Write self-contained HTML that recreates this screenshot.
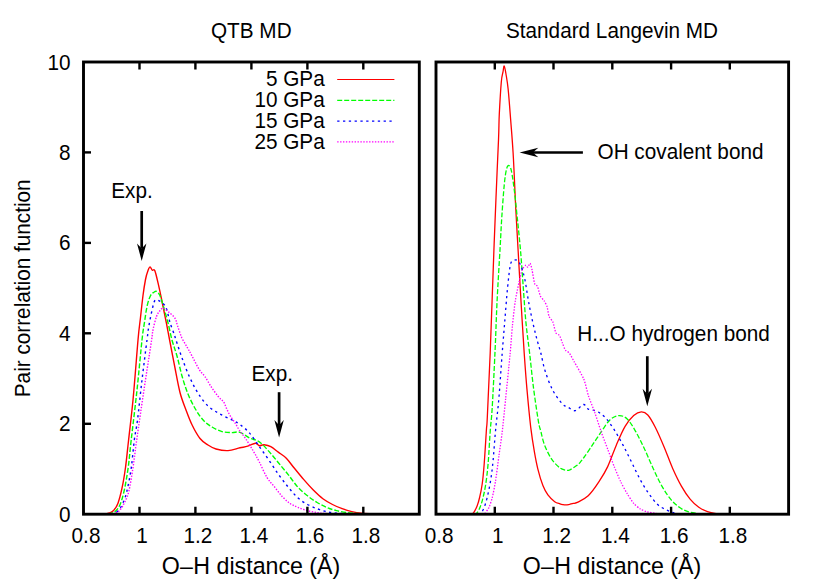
<!DOCTYPE html>
<html><head><meta charset="utf-8"><title>Pair correlation function</title>
<style>
html,body{margin:0;padding:0;background:#fff;}
body{width:830px;height:581px;overflow:hidden;}
svg{display:block;font-family:"Liberation Sans",sans-serif;font-size:20.7px;fill:#000;}
</style></head><body>
<svg width="830" height="581" viewBox="0 0 830 581">
<rect x="0" y="0" width="830" height="581" fill="#ffffff"/>
<path d="M106.0,514.0C106.6,513.8 108.3,513.6 109.6,513.0C110.9,512.4 112.4,511.8 113.8,510.2C115.2,508.6 116.5,507.1 117.9,503.4C119.3,499.7 120.7,494.2 122.0,488.2C123.3,482.2 124.4,475.5 125.5,467.5C126.6,459.5 127.3,451.2 128.6,440.0C129.8,428.8 131.4,416.7 133.0,400.0C134.6,383.3 136.8,353.8 138.0,340.0C139.2,326.2 139.7,324.9 140.5,317.5C141.3,310.1 142.2,301.8 143.0,295.5C143.8,289.2 144.7,283.7 145.5,279.5C146.3,275.3 147.3,272.3 148.1,270.2C148.9,268.1 149.4,266.9 150.1,266.9C150.8,266.9 151.5,269.6 152.3,270.2C153.1,270.8 153.8,268.4 154.8,270.6C155.8,272.9 157.1,279.0 158.2,283.7C159.3,288.4 160.1,292.1 161.5,298.9C162.9,305.6 165.2,317.3 166.6,324.2C167.9,331.1 168.2,332.7 169.6,340.0C171.0,347.3 173.3,359.2 175.0,368.0C176.7,376.8 178.2,385.5 180.0,392.5C181.8,399.5 184.0,404.6 186.0,410.0C188.0,415.4 189.7,420.1 192.0,424.8C194.3,429.6 197.3,435.1 200.0,438.5C202.7,441.9 205.3,443.2 208.0,445.0C210.7,446.8 212.7,448.1 216.0,449.0C219.3,449.9 224.0,450.8 228.0,450.6C232.0,450.4 236.7,448.5 240.0,447.8C243.3,447.1 245.1,447.0 247.7,446.2C250.3,445.4 253.5,443.3 255.4,443.2C257.3,443.1 257.9,445.4 259.3,445.7C260.8,445.9 262.2,444.5 264.1,444.7C266.0,444.9 268.4,445.3 270.8,446.6C273.2,447.9 276.0,450.5 278.6,452.4C281.2,454.3 283.7,455.6 286.3,458.2C288.9,460.8 291.1,464.3 294.0,467.8C296.9,471.3 300.4,475.7 303.6,479.4C306.8,483.1 310.1,486.8 313.3,490.0C316.5,493.2 319.7,496.3 322.9,498.7C326.1,501.1 329.3,502.8 332.5,504.5C335.7,506.2 339.0,507.5 342.2,508.7C345.4,509.9 348.6,510.9 351.8,511.6C355.0,512.3 358.0,512.8 361.5,513.1C365.0,513.5 369.1,513.6 373.0,513.7C376.9,513.9 383.0,514.0 385.0,514.0" fill="none" stroke="#ff0000" stroke-width="1.40" stroke-linejoin="round"/>
<path d="M108.0,514.0C108.5,513.9 109.8,513.7 111.0,513.3C112.2,512.9 113.7,513.0 115.2,511.6C116.7,510.2 118.5,508.1 120.0,504.7C121.5,501.3 122.7,497.2 124.1,491.0C125.5,484.8 127.0,476.0 128.2,467.5C129.4,459.0 129.7,452.9 131.2,440.0C132.7,427.1 135.2,406.7 137.0,390.0C138.8,373.3 140.8,351.0 142.0,340.0C143.2,329.0 143.3,329.9 144.2,324.2C145.1,318.5 146.1,310.4 147.2,305.6C148.3,300.8 149.5,297.7 150.6,295.5C151.7,293.3 153.0,292.9 154.0,292.2C155.0,291.5 155.5,290.8 156.5,291.3C157.5,291.9 158.8,293.1 159.9,295.5C161.0,297.9 161.9,301.4 163.2,305.6C164.5,309.8 166.0,315.1 167.5,320.8C169.0,326.5 170.4,334.1 172.0,340.0C173.6,345.9 175.3,350.0 177.0,356.0C178.7,362.0 180.2,369.7 182.0,376.0C183.8,382.3 185.7,388.3 188.0,394.0C190.3,399.7 193.3,405.5 196.0,410.0C198.7,414.5 201.3,418.2 204.0,421.0C206.7,423.8 209.0,425.2 212.0,427.0C215.0,428.8 218.7,430.7 222.0,431.6C225.3,432.5 229.0,432.5 232.0,432.6C235.0,432.7 237.1,431.4 240.0,432.3C242.9,433.2 246.4,436.4 249.6,438.0C252.8,439.6 256.1,439.6 259.3,441.8C262.5,444.0 265.7,447.9 268.9,451.4C272.1,454.9 275.4,459.1 278.6,463.0C281.8,466.9 285.0,470.6 288.2,474.6C291.4,478.6 294.6,483.6 297.8,487.1C301.0,490.6 304.3,493.2 307.5,495.8C310.7,498.4 313.9,500.6 317.1,502.5C320.3,504.4 323.6,506.0 326.8,507.4C330.0,508.8 332.9,509.7 336.4,510.6C339.9,511.5 344.1,512.2 348.0,512.7C351.9,513.2 358.0,513.6 360.0,513.8" fill="none" stroke="#00ff00" stroke-width="1.40" stroke-dasharray="5,2" stroke-linejoin="round"/>
<path d="M111.0,514.0C111.6,513.8 113.2,513.6 114.5,513.0C115.8,512.4 117.2,511.8 118.6,510.2C120.0,508.6 121.3,506.6 122.7,503.4C124.1,500.2 125.5,497.0 126.9,491.0C128.3,485.0 130.1,476.0 131.3,467.5C132.5,459.0 133.3,447.9 134.3,440.0C135.3,432.1 136.2,430.0 137.5,420.0C138.8,410.0 140.4,393.3 142.0,380.0C143.6,366.7 145.8,349.0 147.0,340.0C148.2,331.0 148.0,331.1 148.9,325.9C149.8,320.7 151.3,313.2 152.3,309.0C153.3,304.8 153.8,302.1 154.8,300.6C155.8,299.2 156.8,299.8 158.2,300.3C159.6,300.8 161.8,302.2 163.2,303.6C164.6,305.1 165.5,305.9 166.6,309.0C167.7,312.1 168.7,318.3 170.0,322.5C171.3,326.7 173.2,331.4 174.2,334.3C175.2,337.2 174.7,336.1 176.0,340.0C177.3,343.9 179.7,351.7 182.0,358.0C184.3,364.3 187.3,372.2 190.0,378.0C192.7,383.8 195.0,388.3 198.0,393.0C201.0,397.7 204.3,402.5 208.0,406.0C211.7,409.5 216.0,411.7 220.0,414.0C224.0,416.3 228.7,418.2 232.0,420.0C235.3,421.8 237.1,422.3 240.0,424.5C242.9,426.7 246.4,429.4 249.6,433.1C252.8,436.8 256.1,442.1 259.3,446.6C262.5,451.1 265.7,455.4 268.9,460.1C272.1,464.8 275.4,470.1 278.6,474.6C281.8,479.1 285.0,483.2 288.2,487.1C291.4,491.0 294.6,494.8 297.8,497.7C301.0,500.6 304.3,502.7 307.5,504.5C310.7,506.3 313.9,507.5 317.1,508.7C320.3,509.9 323.6,511.1 326.8,511.8C330.0,512.5 332.9,512.7 336.4,513.1C339.9,513.5 346.1,513.9 348.0,514.0" fill="none" stroke="#0000ff" stroke-width="1.40" stroke-dasharray="2.3,3.5" stroke-linejoin="round"/>
<path d="M113.0,514.0C113.7,513.7 115.9,513.1 117.2,512.3C118.5,511.5 119.4,510.7 120.7,509.0C122.0,507.3 123.4,505.0 124.8,502.0C126.2,499.0 127.5,496.8 128.9,491.0C130.3,485.2 131.8,475.2 133.0,467.5C134.2,459.8 134.7,454.6 136.0,445.0C137.3,435.4 139.2,422.5 141.0,410.0C142.8,397.5 145.2,381.7 147.0,370.0C148.8,358.3 150.6,346.8 151.6,340.0C152.6,333.2 152.3,333.2 153.1,329.3C153.9,325.4 155.4,319.7 156.5,316.6C157.6,313.5 158.8,312.1 159.9,310.7C161.0,309.3 161.7,307.9 163.2,308.2C164.7,308.5 167.1,310.7 169.1,312.4C171.1,314.1 173.6,316.1 175.0,318.3C176.4,320.6 176.5,322.7 177.6,325.9C178.7,329.1 180.2,334.0 181.8,337.7C183.5,341.4 185.8,344.8 187.5,347.8C189.2,350.9 190.0,352.3 192.0,356.0C194.0,359.7 197.3,366.6 199.5,370.0C201.7,373.4 203.0,373.8 204.9,376.5C206.8,379.2 208.8,383.2 211.0,386.5C213.2,389.8 216.1,393.9 218.2,396.5C220.3,399.1 222.2,400.0 223.6,402.0C225.0,404.0 225.5,406.3 226.6,408.6C227.7,410.9 228.8,413.4 230.2,415.8C231.6,418.2 233.5,420.5 235.1,423.0C236.7,425.5 238.1,428.4 239.9,431.0C241.7,433.6 243.5,435.5 245.8,438.9C248.1,442.3 251.2,447.5 253.5,451.4C255.8,455.2 257.1,457.6 259.3,462.0C261.6,466.4 264.4,473.3 267.0,477.5C269.6,481.7 272.1,483.9 274.7,487.1C277.3,490.3 279.8,494.0 282.4,496.7C285.0,499.4 287.5,501.7 290.1,503.5C292.7,505.3 294.9,506.1 297.8,507.3C300.7,508.5 304.3,509.7 307.5,510.6C310.7,511.5 314.2,512.1 317.1,512.6C320.0,513.1 321.8,513.3 324.8,513.5C327.8,513.7 333.3,513.9 335.0,514.0" fill="none" stroke="#ff00ff" stroke-width="1.40" stroke-dasharray="1.4,1.5" stroke-linejoin="round"/>
<path d="M471.0,514.0C471.4,513.8 472.7,514.0 473.7,512.6C474.7,511.2 476.1,508.4 477.1,505.9C478.1,503.4 478.8,501.1 479.6,497.5C480.5,493.9 481.4,489.6 482.2,484.0C483.0,478.4 483.5,472.7 484.2,463.7C484.9,454.7 485.9,437.7 486.4,430.0C486.9,422.3 486.7,430.3 487.3,417.5C487.9,404.7 489.1,381.8 490.2,353.0C491.3,324.2 493.1,270.9 494.1,245.0C495.1,219.1 495.3,215.3 496.0,197.8C496.7,180.3 497.9,154.0 498.5,140.0C499.1,126.0 498.8,123.7 499.3,114.0C499.8,104.3 500.7,89.0 501.3,82.0C501.9,75.0 502.5,74.6 503.0,71.9C503.5,69.2 503.7,65.7 504.2,66.0C504.7,66.3 505.2,69.7 505.9,73.5C506.5,77.3 507.3,81.1 508.1,88.7C508.9,96.3 509.8,108.3 510.6,119.0C511.4,129.7 512.2,138.1 513.1,152.8C514.0,167.6 514.9,191.0 515.7,207.5C516.6,224.0 517.3,235.9 518.2,251.8C519.1,267.7 520.1,285.9 521.1,302.8C522.1,319.7 523.2,338.7 524.2,353.0C525.2,367.3 525.8,376.2 526.9,388.6C528.0,401.0 529.5,416.6 530.7,427.1C532.0,437.7 533.2,444.9 534.4,451.9C535.6,458.8 536.4,463.2 537.8,468.8C539.2,474.4 541.2,481.2 542.9,485.6C544.6,490.0 545.9,492.2 547.9,494.9C549.9,497.6 552.7,500.2 554.7,501.7C556.7,503.2 558.6,503.3 560.0,503.8C561.4,504.3 562.0,504.4 563.0,504.6C564.0,504.8 564.9,504.9 566.0,504.9C567.1,504.9 568.3,504.6 569.5,504.4C570.7,504.1 571.9,503.7 573.2,503.4C574.5,503.1 574.8,503.7 577.3,502.4C579.8,501.1 584.6,499.2 588.2,495.8C591.8,492.4 595.8,486.6 599.0,481.7C602.2,476.8 604.8,472.7 607.7,466.6C610.6,460.5 613.5,451.6 616.4,444.9C619.3,438.2 622.2,431.3 625.1,426.4C628.0,421.5 631.0,418.0 633.7,415.6C636.4,413.2 638.9,412.0 641.3,411.9C643.6,411.8 645.4,412.4 647.8,415.0C650.1,417.6 652.7,422.2 655.4,427.5C658.1,432.8 661.2,440.1 664.1,447.0C667.0,453.9 669.9,462.2 672.8,468.7C675.7,475.2 678.5,481.0 681.4,486.1C684.3,491.2 687.2,495.6 690.1,499.1C693.0,502.6 695.9,505.2 698.8,507.3C701.7,509.4 704.6,510.6 707.5,511.7C710.4,512.8 713.2,513.2 716.1,513.6C719.0,514.0 723.5,513.9 725.0,514.0" fill="none" stroke="#ff0000" stroke-width="1.30" stroke-linejoin="round"/>
<path d="M474.0,514.0C474.4,513.9 475.5,514.1 476.3,513.5C477.1,512.9 477.8,512.2 478.8,510.1C479.8,508.0 481.1,504.9 482.2,500.8C483.3,496.7 484.5,491.8 485.5,485.6C486.5,479.4 487.3,473.0 488.1,463.7C488.9,454.4 489.6,439.3 490.3,430.0C491.0,420.7 491.4,421.1 492.2,407.8C493.0,394.5 494.3,367.5 495.1,350.0C495.9,332.5 496.2,319.8 497.0,302.8C497.8,285.8 499.3,262.3 500.1,248.0C500.9,233.7 501.1,227.7 501.8,217.1C502.5,206.5 503.5,192.3 504.3,184.3C505.1,176.3 505.8,172.0 506.6,168.9C507.4,165.8 508.1,165.3 508.9,165.6C509.7,165.9 510.5,166.7 511.4,170.8C512.3,174.9 513.3,182.4 514.3,190.1C515.3,197.8 516.2,207.4 517.2,217.1C518.2,226.8 519.3,236.9 520.3,248.0C521.3,259.1 522.1,271.2 523.0,283.6C523.9,296.0 524.8,310.5 525.9,322.1C527.0,333.7 528.3,341.9 529.6,353.0C530.9,364.1 532.1,377.2 533.6,388.6C535.1,400.0 537.2,414.1 538.4,421.3C539.6,428.5 540.0,428.0 541.0,432.0C542.0,436.0 542.9,440.8 544.6,445.2C546.3,449.6 549.1,455.2 551.3,458.7C553.5,462.2 556.2,464.6 558.0,466.3C559.8,468.1 560.9,468.5 562.3,469.2C563.7,469.9 565.2,470.3 566.5,470.4C567.8,470.5 568.9,470.2 570.0,469.8C571.1,469.4 572.0,468.6 573.2,467.9C574.4,467.1 575.9,466.2 577.0,465.3C578.1,464.4 578.9,463.9 580.0,462.6C581.1,461.3 581.8,460.4 583.9,457.5C586.0,454.6 589.6,449.2 592.5,444.9C595.4,440.6 598.3,436.1 601.2,431.9C604.1,427.7 607.0,422.6 609.9,419.9C612.8,417.2 615.7,415.8 618.6,415.6C621.5,415.4 624.3,416.2 627.2,418.9C630.1,421.6 633.0,426.8 635.9,431.9C638.8,436.9 641.7,443.1 644.6,449.2C647.5,455.3 650.4,462.5 653.3,468.7C656.2,474.9 659.0,481.0 661.9,486.1C664.8,491.2 667.7,495.6 670.6,499.1C673.5,502.6 676.4,505.2 679.3,507.3C682.2,509.4 685.1,510.7 688.0,511.7C690.9,512.7 693.8,513.0 696.6,513.4C699.4,513.8 703.6,513.9 705.0,514.0" fill="none" stroke="#00ff00" stroke-width="1.30" stroke-dasharray="5,2" stroke-linejoin="round"/>
<path d="M478.0,514.0C478.4,513.9 479.5,514.4 480.5,513.5C481.5,512.6 482.7,511.1 483.8,508.4C484.9,505.7 486.1,502.1 487.2,497.5C488.3,492.9 489.6,486.8 490.6,480.6C491.6,474.4 492.3,468.8 493.1,460.4C493.9,452.0 494.6,440.4 495.6,430.0C496.6,419.6 497.8,411.0 498.9,398.2C500.0,385.4 501.2,365.7 502.2,353.0C503.2,340.3 503.8,333.0 504.7,322.1C505.6,311.2 506.6,297.0 507.6,287.4C508.6,277.8 509.5,268.7 510.5,264.3C511.5,259.9 512.3,261.5 513.4,260.8C514.5,260.1 515.9,259.5 517.2,260.4C518.5,261.3 519.8,263.0 521.1,266.2C522.4,269.4 523.6,273.6 524.9,279.7C526.2,285.8 527.3,295.1 528.8,302.8C530.2,310.5 532.1,319.6 533.6,326.0C535.1,332.4 536.3,336.9 537.5,341.4C538.7,345.9 539.5,348.0 540.8,353.0C542.1,358.0 543.2,364.9 545.2,371.2C547.2,377.4 550.0,385.0 552.9,390.5C555.8,396.0 560.0,401.3 562.5,404.0C565.0,406.7 565.5,405.8 567.6,406.9C569.7,408.0 572.5,411.1 575.1,410.7C577.8,410.3 581.3,404.8 583.5,404.5C585.7,404.2 586.0,408.0 588.2,409.1C590.4,410.2 594.0,409.9 596.9,411.3C599.8,412.8 602.6,414.7 605.5,417.8C608.4,420.9 611.3,425.2 614.2,429.7C617.1,434.2 620.0,439.5 622.9,444.9C625.8,450.3 628.7,456.4 631.6,462.2C634.5,468.0 637.3,474.4 640.2,479.6C643.1,484.9 646.0,489.6 648.9,493.7C651.8,497.8 654.7,501.8 657.6,504.5C660.5,507.2 663.4,508.4 666.3,509.9C669.2,511.3 672.1,512.5 674.9,513.2C677.7,513.9 681.6,513.9 683.0,514.0" fill="none" stroke="#0000ff" stroke-width="1.30" stroke-dasharray="2.3,3.5" stroke-linejoin="round"/>
<path d="M482.0,514.0C482.3,513.9 483.9,514.2 484.7,513.5C485.5,512.8 488.0,509.5 488.9,507.6C489.8,505.7 491.5,500.6 492.3,497.5C493.1,494.4 494.8,485.5 495.6,480.6C496.4,475.7 498.2,461.0 499.0,455.3C499.8,449.6 501.4,438.7 502.2,432.0C503.0,425.3 504.8,407.2 505.7,398.2C506.6,389.2 509.2,363.4 510.0,355.0C510.8,346.6 511.8,332.3 512.4,326.0C513.0,319.7 514.5,306.1 515.3,300.9C516.1,295.7 518.4,285.2 519.2,281.6C520.0,278.0 521.2,272.0 522.0,270.1C522.8,268.2 525.2,265.5 525.9,265.2C526.6,264.9 527.3,267.4 527.8,267.2C528.3,267.0 529.6,263.0 530.1,263.3C530.6,263.6 531.6,267.7 532.1,270.1C532.6,272.5 534.0,281.7 534.6,283.6C535.2,285.5 536.8,284.9 537.5,286.4C538.2,287.9 539.6,294.4 540.4,296.1C541.2,297.8 543.4,299.7 544.2,300.9C545.0,302.1 546.5,304.9 547.1,306.7C547.7,308.5 548.3,314.5 549.0,316.3C549.7,318.1 552.1,320.2 552.9,322.1C553.7,324.0 555.0,331.1 555.8,332.7C556.6,334.3 558.8,334.4 559.6,335.6C560.4,336.8 561.8,341.6 562.5,343.3C563.2,345.0 564.6,349.0 565.4,350.1C566.2,351.2 568.3,351.7 569.3,353.0C570.3,354.3 572.4,358.6 574.1,361.6C575.8,364.6 582.0,374.9 583.7,378.9C585.4,382.9 587.2,392.1 588.5,396.0C589.8,399.9 593.2,408.1 594.7,412.3C596.2,416.5 599.7,427.6 601.2,431.9C602.7,436.2 606.2,445.2 607.7,449.2C609.2,453.2 612.7,462.8 614.2,466.6C615.7,470.4 619.2,478.5 620.7,481.7C622.2,484.9 625.7,491.2 627.2,493.7C628.7,496.2 632.2,501.6 633.7,503.4C635.2,505.2 638.7,507.9 640.2,508.9C641.7,509.9 644.9,511.2 646.7,511.7C648.5,512.2 653.5,513.1 655.4,513.4C657.3,513.7 662.1,513.9 663.0,514.0" fill="none" stroke="#ff00ff" stroke-width="1.30" stroke-dasharray="1.4,1.5" stroke-linejoin="round"/>
<rect x="83.5" y="62.0" width="335.8" height="452.2" fill="none" stroke="#000" stroke-width="2.9"/>
<path d="M139.5,62.0v7.5M139.5,514.2v-7.5" stroke="#000" stroke-width="2.4" fill="none"/>
<path d="M195.4,62.0v7.5M195.4,514.2v-7.5" stroke="#000" stroke-width="2.4" fill="none"/>
<path d="M251.4,62.0v7.5M251.4,514.2v-7.5" stroke="#000" stroke-width="2.4" fill="none"/>
<path d="M307.4,62.0v7.5M307.4,514.2v-7.5" stroke="#000" stroke-width="2.4" fill="none"/>
<path d="M363.3,62.0v7.5M363.3,514.2v-7.5" stroke="#000" stroke-width="2.4" fill="none"/>
<text transform="translate(86.00,542.80) scale(1,1.055)" text-anchor="middle" font-size="20.75">0.8</text>
<text transform="translate(141.97,542.80) scale(1,1.055)" text-anchor="middle" font-size="20.75">1</text>
<text transform="translate(197.93,542.80) scale(1,1.055)" text-anchor="middle" font-size="20.75">1.2</text>
<text transform="translate(253.90,542.80) scale(1,1.055)" text-anchor="middle" font-size="20.75">1.4</text>
<text transform="translate(309.87,542.80) scale(1,1.055)" text-anchor="middle" font-size="20.75">1.6</text>
<text transform="translate(365.83,542.80) scale(1,1.055)" text-anchor="middle" font-size="20.75">1.8</text>
<text transform="translate(70.50,521.80) scale(1,1.055)" text-anchor="end" font-size="20.75">0</text>
<path d="M83.5,423.8h7.5" stroke="#000" stroke-width="2.4" fill="none"/>
<text transform="translate(70.50,431.36) scale(1,1.055)" text-anchor="end" font-size="20.75">2</text>
<path d="M83.5,333.3h7.5" stroke="#000" stroke-width="2.4" fill="none"/>
<text transform="translate(70.50,340.92) scale(1,1.055)" text-anchor="end" font-size="20.75">4</text>
<path d="M83.5,242.9h7.5" stroke="#000" stroke-width="2.4" fill="none"/>
<text transform="translate(70.50,250.48) scale(1,1.055)" text-anchor="end" font-size="20.75">6</text>
<path d="M83.5,152.4h7.5" stroke="#000" stroke-width="2.4" fill="none"/>
<text transform="translate(70.50,160.04) scale(1,1.055)" text-anchor="end" font-size="20.75">8</text>
<text transform="translate(70.50,69.60) scale(1,1.055)" text-anchor="end" font-size="20.75">10</text>
<rect x="436.0" y="62.0" width="352.6" height="452.2" fill="none" stroke="#000" stroke-width="2.9"/>
<path d="M494.8,62.0v7.5M494.8,514.2v-7.5" stroke="#000" stroke-width="2.4" fill="none"/>
<path d="M553.5,62.0v7.5M553.5,514.2v-7.5" stroke="#000" stroke-width="2.4" fill="none"/>
<path d="M612.3,62.0v7.5M612.3,514.2v-7.5" stroke="#000" stroke-width="2.4" fill="none"/>
<path d="M671.1,62.0v7.5M671.1,514.2v-7.5" stroke="#000" stroke-width="2.4" fill="none"/>
<path d="M729.8,62.0v7.5M729.8,514.2v-7.5" stroke="#000" stroke-width="2.4" fill="none"/>
<text transform="translate(439.10,542.80) scale(1,1.055)" text-anchor="middle" font-size="20.75">0.8</text>
<text transform="translate(497.87,542.80) scale(1,1.055)" text-anchor="middle" font-size="20.75">1</text>
<text transform="translate(556.63,542.80) scale(1,1.055)" text-anchor="middle" font-size="20.75">1.2</text>
<text transform="translate(615.40,542.80) scale(1,1.055)" text-anchor="middle" font-size="20.75">1.4</text>
<text transform="translate(674.17,542.80) scale(1,1.055)" text-anchor="middle" font-size="20.75">1.6</text>
<text transform="translate(732.93,542.80) scale(1,1.055)" text-anchor="middle" font-size="20.75">1.8</text>
<text transform="translate(251.30,38.00) scale(1,1.055)" text-anchor="middle" font-size="20.75">QTB MD</text>
<text transform="translate(612.00,38.20) scale(1,1.055)" text-anchor="middle" font-size="20.75">Standard Langevin MD</text>
<text transform="translate(251.00,573.60) scale(1,1.030)" text-anchor="middle" font-size="23.20">O<tspan dx="0.3">–</tspan><tspan dx="0.35">H</tspan> distance (Å)</text>
<text transform="translate(612.00,573.60) scale(1,1.030)" text-anchor="middle" font-size="23.20">O<tspan dx="0.3">–</tspan><tspan dx="0.35">H</tspan> distance (Å)</text>
<text transform="translate(29.50,288.30) rotate(-90) scale(1,1.055)" text-anchor="middle" font-size="20.75">Pair correlation function</text>
<text transform="translate(324.70,86.40) scale(1,1.055)" text-anchor="end" font-size="20.75">5 GPa</text>
<path d="M337.2,79.5H394.4" stroke="#ff0000" stroke-width="1.15" fill="none"/>
<text transform="translate(324.70,107.20) scale(1,1.055)" text-anchor="end" font-size="20.75">10 GPa</text>
<path d="M337.2,100.3H394.4" stroke="#00ff00" stroke-width="1.15" stroke-dasharray="5,2" fill="none"/>
<text transform="translate(324.70,128.00) scale(1,1.055)" text-anchor="end" font-size="20.75">15 GPa</text>
<path d="M337.2,121.1H394.4" stroke="#0000ff" stroke-width="1.15" stroke-dasharray="2.3,3.5" fill="none"/>
<text transform="translate(324.70,148.80) scale(1,1.055)" text-anchor="end" font-size="20.75">25 GPa</text>
<path d="M337.2,141.9H394.4" stroke="#ff00ff" stroke-width="1.15" stroke-dasharray="1.4,1.5" fill="none"/>
<path d="M141.7,211.0V248.6" stroke="#000" stroke-width="2.7" fill="none"/><path d="M141.7,260.9L137.0,243.4L141.7,248.6L146.4,243.4Z" fill="#000"/>
<path d="M279.1,392.2V425.3" stroke="#000" stroke-width="2.7" fill="none"/><path d="M279.1,437.6L274.4,420.1L279.1,425.3L283.8,420.1Z" fill="#000"/>
<path d="M647.3,356.2V393.9" stroke="#000" stroke-width="2.7" fill="none"/><path d="M647.3,406.2L642.6,388.7L647.3,393.9L652.0,388.7Z" fill="#000"/>
<path d="M582.9,152.5H532.9" stroke="#000" stroke-width="2.7" fill="none"/><path d="M519.6,152.5L538.3,147.7L532.9,152.5L538.3,157.3Z" fill="#000"/>
<text transform="translate(132.00,198.40) scale(1,1.055)" text-anchor="middle" font-size="20.75">Exp.</text>
<text transform="translate(272.20,381.20) scale(1,1.055)" text-anchor="middle" font-size="20.75">Exp.</text>
<text transform="translate(597.50,159.40) scale(1,1.055)" text-anchor="start" font-size="20.75">OH covalent bond</text>
<text transform="translate(577.30,340.60) scale(1,1.055)" text-anchor="start" font-size="20.75">H...O hydrogen bond</text>
</svg></body></html>
